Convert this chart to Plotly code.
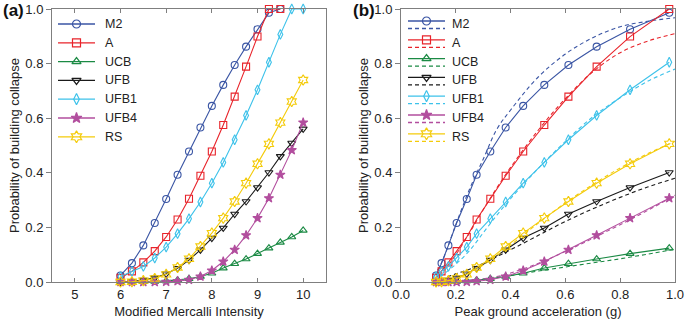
import plotly.graph_objects as go

# ---------------- data ----------------
mmi = [6.0, 6.25, 6.5, 6.75, 7.0, 7.25, 7.5, 7.75, 8.0, 8.25, 8.5, 8.75, 9.0, 9.25, 9.5, 9.75, 10.0]
pga = [0.128, 0.148, 0.173, 0.203, 0.240, 0.276, 0.326, 0.382, 0.446, 0.523, 0.611, 0.714, 0.836, 0.979]

m2 = [0.024, 0.069, 0.134, 0.216, 0.304, 0.393, 0.478, 0.566, 0.645, 0.722, 0.795, 0.862, 0.926, 0.986, 1.0]
a = [0.015, 0.039, 0.072, 0.113, 0.165, 0.229, 0.305, 0.389, 0.478, 0.575, 0.679, 0.789, 0.899, 1.0, 1.0]
ucb = [0.0, 0.0, 0.001, 0.002, 0.004, 0.007, 0.012, 0.02, 0.032, 0.051, 0.067, 0.084, 0.104, 0.124, 0.145, 0.165, 0.189]
ufb = [0.0, 0.003, 0.007, 0.015, 0.03, 0.05, 0.08, 0.118, 0.161, 0.198, 0.249, 0.295, 0.346, 0.401, 0.46, 0.509, 0.561]
ufb1 = [0.02, 0.039, 0.057, 0.088, 0.128, 0.177, 0.232, 0.293, 0.362, 0.438, 0.521, 0.61, 0.704, 0.805, 0.907, 1.0, 1.0]
ufb4 = [0.0, 0.0, 0.0, 0.0, 0.001, 0.003, 0.008, 0.02, 0.042, 0.075, 0.118, 0.171, 0.234, 0.307, 0.393, 0.483, 0.584]
rs = [0.0, 0.001, 0.005, 0.013, 0.028, 0.053, 0.085, 0.13, 0.179, 0.234, 0.295, 0.362, 0.433, 0.506, 0.584, 0.661, 0.74]

pga_fit = [0.12, 0.15, 0.2, 0.25, 0.3, 0.35, 0.4, 0.5, 0.6, 0.7, 0.8, 0.9, 1.0]
m2_fit = [0.02, 0.075, 0.21, 0.34, 0.45, 0.56, 0.63, 0.75, 0.835, 0.895, 0.935, 0.955, 0.968]
a_fit = [0.008, 0.035, 0.1, 0.18, 0.265, 0.345, 0.42, 0.555, 0.672, 0.77, 0.84, 0.882, 0.91]
ucb_fit = [0.0, 0.0, 0.002, 0.006, 0.011, 0.017, 0.024, 0.04, 0.055, 0.07, 0.085, 0.102, 0.12]
ufb_fit = [0.004, 0.012, 0.03, 0.047, 0.068, 0.093, 0.118, 0.17, 0.222, 0.268, 0.31, 0.348, 0.38]
ufb1_fit = [0.008, 0.025, 0.065, 0.115, 0.18, 0.245, 0.305, 0.415, 0.515, 0.605, 0.675, 0.735, 0.78]
ufb4_fit = [0.0, 0.0, 0.002, 0.005, 0.011, 0.02, 0.033, 0.068, 0.112, 0.16, 0.21, 0.262, 0.318]
rs_fit = [0.0, 0.002, 0.012, 0.033, 0.062, 0.097, 0.135, 0.215, 0.29, 0.357, 0.418, 0.47, 0.515]

y_ticks = [0, 0.2, 0.4, 0.6, 0.8, 1.0]
mmi_ticks = [5, 6, 7, 8, 9, 10]
pga_ticks = [0, 0.2, 0.4, 0.6, 0.8, 1.0]

names = ["M2", "A", "UCB", "UFB", "UFB1", "UFB4", "RS"]
series = [m2, a, ucb, ufb, ufb1, ufb4, rs]
fits = [m2_fit, a_fit, ucb_fit, ufb_fit, ufb1_fit, ufb4_fit, rs_fit]
colors = ["#3A55A4", "#E8232A", "#1B8A44", "#1a1a1a", "#3DC2EA", "#B24E9E", "#F4CB0A"]
symbols = ["circle-open", "square-open", "triangle-up-open", "triangle-down-open",
           "diamond-tall-open", "star", "hexagram-open"]
msizes = [7, 7, 7, 7, 7, 7, 8]

FONT = "Liberation Sans, Arial, sans-serif"
W, H = 685, 323
ML, MR, MT, MB = 52, 10, 9, 41
pw = W - ML - MR
ph = H - MT - MB


def px2x(p):
    return (p - ML) / pw


def py2y(p):
    return 1 - (p - MT) / ph


fig = go.Figure()

for n, y, c, s, ms in zip(names, series, colors, symbols, msizes):
    fig.add_trace(go.Scatter(
        x=mmi[:len(y)], y=y, mode="lines+markers", name=n, showlegend=False,
        line=dict(color=c, width=1.1), cliponaxis=False,
        marker=dict(symbol=s, size=ms, color=c, line=dict(color=c, width=1.1)),
        xaxis="x", yaxis="y"))

for n, y, f, c, s, ms in zip(names, series, fits, colors, symbols, msizes):
    fig.add_trace(go.Scatter(
        x=pga_fit, y=f, mode="lines", showlegend=False, line_shape="spline",
        line=dict(color=c, width=1.1, dash="4px,3px"), cliponaxis=False,
        xaxis="x2", yaxis="y2"))
    fig.add_trace(go.Scatter(
        x=pga, y=y[:len(pga)], mode="lines+markers", name=n, showlegend=False,
        line=dict(color=c, width=1.1), cliponaxis=False,
        marker=dict(symbol=s, size=ms, color=c, line=dict(color=c, width=1.1)),
        xaxis="x2", yaxis="y2"))

# ---------------- hand-made legends (pixel overlay axis) ----------------
shapes = []
annotations = []
leg_top, leg_step = 24, 18.8
panels = [dict(x0=58, x1=95, tx=103, dashed=False),
          dict(x0=408, x1=445, tx=450, dashed=True)]
for p in panels:
    for i, (n, c, s, ms) in enumerate(zip(names, colors, symbols, msizes)):
        yc = leg_top + i * leg_step
        ys = yc - 3 if p["dashed"] else yc
        shapes.append(dict(type="line", xref="x3", yref="y3", x0=p["x0"], x1=p["x1"], y0=ys, y1=ys,
                           line=dict(color=c, width=1.3)))
        if p["dashed"]:
            shapes.append(dict(type="line", xref="x3", yref="y3", x0=p["x0"], x1=p["x1"],
                               y0=yc + 4.5, y1=yc + 4.5, line=dict(color=c, width=1.3, dash="4px,3px")))
        fig.add_trace(go.Scatter(
            x=[(p["x0"] + p["x1"]) / 2], y=[ys], mode="markers", showlegend=False, hoverinfo="skip",
            marker=dict(symbol=s, size=ms + 1, color=c, line=dict(color=c, width=1.2)),
            xaxis="x3", yaxis="y3", cliponaxis=False))
        annotations.append(dict(text=n, x=p["tx"], y=yc, xref="x3", yref="y3", xanchor="left",
                                yanchor="middle", showarrow=False,
                                font=dict(size=12.5, color="#222", family=FONT)))

annotations += [
    dict(text="<b>(a)</b>", x=px2x(1), y=py2y(11), xref="paper", yref="paper",
         xanchor="left", yanchor="middle", showarrow=False, font=dict(size=17, color="#111", family=FONT)),
    dict(text="<b>(b)</b>", x=px2x(351), y=py2y(11), xref="paper", yref="paper",
         xanchor="left", yanchor="middle", showarrow=False, font=dict(size=17, color="#111", family=FONT)),
]

base = dict(showline=True, linecolor="#7f7f7f", linewidth=1, tickcolor="#7f7f7f", showgrid=False,
            zeroline=False, automargin=False,
            tickfont=dict(size=13, color="#222", family=FONT),
            title_font=dict(size=13, color="#222", family=FONT))
xax = dict(base, ticks="inside", ticklen=4, mirror="ticks")
yax = dict(base, ticks="outside", ticklen=5, mirror=True)
yright = dict(showline=False, ticks="inside", ticklen=4, tickcolor="#7f7f7f", showgrid=False,
              zeroline=False, showticklabels=False, automargin=False, side="right")

fig.update_layout(
    width=W, height=H, margin=dict(l=ML, r=MR, t=MT, b=MB, autoexpand=False),
    paper_bgcolor="white", plot_bgcolor="rgba(0,0,0,0)", showlegend=False,
    font=dict(family=FONT, color="#222"),
    xaxis=dict(domain=[0, px2x(326)], range=[4.5, 10.5], tickvals=mmi_ticks,
               title=dict(text="Modified Mercalli Intensity", standoff=6), **xax),
    yaxis=dict(domain=[0, 1], range=[0, 1], tickvals=y_ticks, tickformat=".1f",
               title=dict(text="Probability of building collapse", standoff=2), **yax),
    xaxis2=dict(domain=[px2x(401), 1], range=[0, 1], tickvals=pga_ticks,
                tickformat=".1f", anchor="y2",
                title=dict(text="Peak ground acceleration (g)", standoff=6), **xax),
    yaxis2=dict(domain=[0, 1], range=[0, 1], tickvals=y_ticks, tickformat=".1f",
                anchor="x2",
                title=dict(text="Probability of building collapse", standoff=2), **yax),
    xaxis3=dict(domain=[0, 1], range=[ML, W - MR], visible=False, anchor="y3", fixedrange=True),
    yaxis3=dict(domain=[0, 1], range=[H - MB, MT], visible=False, anchor="x3", fixedrange=True),
    yaxis4=dict(overlaying="y", anchor="x", range=[0, 1], tickvals=y_ticks, **yright),
    yaxis5=dict(overlaying="y2", anchor="x2", range=[0, 1], tickvals=y_ticks, **yright),
    shapes=shapes,
    annotations=annotations,
)

fig.write_html("out.html", config={"displayModeBar": False},
               post_script="document.body.style.margin='0px';")
